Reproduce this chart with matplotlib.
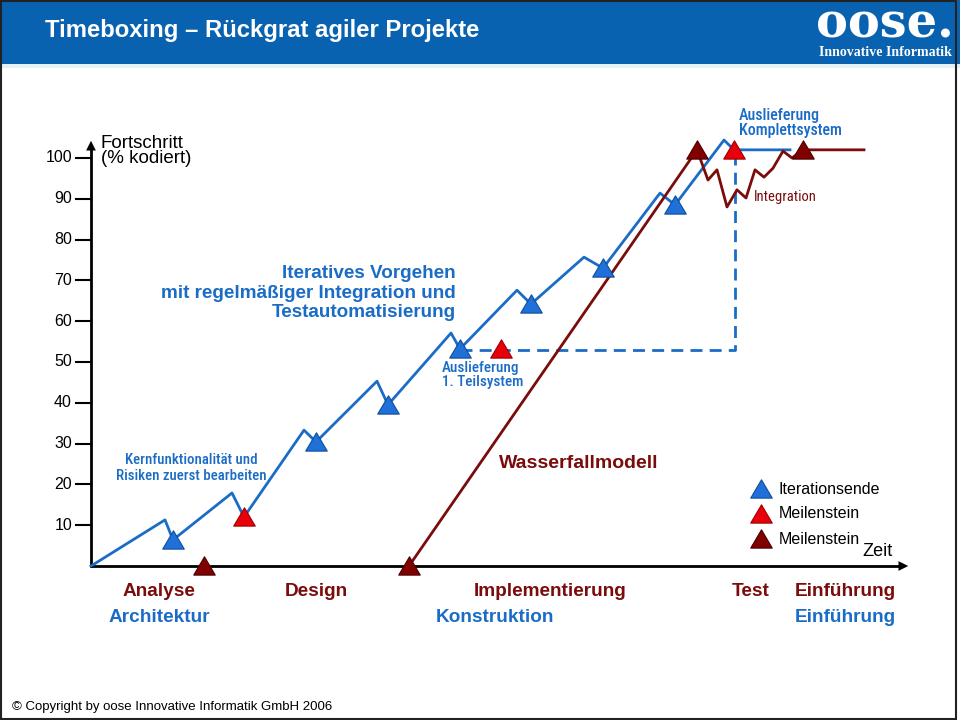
import matplotlib
matplotlib.use('Agg')
import matplotlib.pyplot as plt
from matplotlib.path import Path
from matplotlib.patches import Rectangle

# --- data (time units, progress in % coded) ---
iter_t = [0, 7.4, 8.2, 14.1, 15.3, 21.3, 22.5, 28.6, 29.7, 36.0, 36.9,
          42.6, 44.0, 49.3, 51.2, 56.9, 58.4, 63.3, 64.3, 69.9]
iter_y = [0, 11.3, 6.4, 17.9, 12.0, 33.3, 30.4, 45.3, 39.5, 57.1, 53.2,
          67.6, 64.2, 75.7, 73.0, 91.4, 88.5, 104.4, 102.0, 102.0]
iter_end_t = [8.2, 22.5, 29.7, 36.9, 44.0, 51.2, 58.4]
iter_end_y = [6.4, 30.4, 39.5, 53.2, 64.2, 73.0, 88.5]
agile_ms_t = [15.3, 41.0, 64.3]
agile_ms_y = [12.0, 53.2, 102.0]
deliv_t = [36.9, 64.4, 64.4]
deliv_y = [52.9, 52.9, 102.0]

wf_t = [31.8, 60.6, 61.7, 62.6, 63.6, 64.6, 65.5, 66.4, 67.3, 68.2, 69.2, 70.1, 71.2, 77.3]
wf_y = [0, 102, 94.6, 97.1, 88.0, 92.2, 90.2, 97.1, 95.3, 97.5, 101.7, 100.0, 102.0, 102.0]
wf_ms_t = [11.3, 31.8, 60.6, 71.2]
wf_ms_y = [0, 0, 102, 102]

y_ticks = [10, 20, 30, 40, 50, 60, 70, 80, 90, 100]
wf_phases = ["Analyse", "Design", "Implementierung", "Test", "Einführung"]
wf_phase_t = [6.8, 22.5, 45.9, 66.0, 75.4]
agile_phases = ["Architektur", "Konstruktion", "Einführung"]
agile_phase_t = [6.8, 40.4, 75.4]
legend_labels = ["Iterationsende", "Meilenstein", "Meilenstein"]

BLUE = '#1a6cc6'
BLUE_TRI = '#1f70d8'
RED = '#e8000b'
DARK = '#7a0c0c'
HEADER = '#0862b0'

plt.rcParams['font.family'] = ['Liberation Sans', 'DejaVu Sans']
COND = ['Roboto Condensed', 'Liberation Sans', 'DejaVu Sans']

# pixel -> data helpers for placing text
def X(px):
    return (px - 91) / 10.0

def Y(py):
    return (566 - py) / 4.08

tri = Path([(-1, -0.8), (1, -0.8), (0, 0.9), (-1, -0.8)],
           [Path.MOVETO, Path.LINETO, Path.LINETO, Path.CLOSEPOLY])
MS = 15.5

fig = plt.figure(figsize=(9.6, 7.2), dpi=100)
ax = fig.add_axes([0, 0, 1, 1])
ax.set_xlim(X(0), X(960))
ax.set_ylim(Y(720), Y(0))
ax.axis('off')

# header
fig.patches.append(Rectangle((0, 1 - 64 / 720), 1, 64 / 720, transform=fig.transFigure,
                             facecolor=HEADER, edgecolor='none', zorder=0))
fig.patches.append(Rectangle((0, 1 - 68 / 720), 1, 4 / 720, transform=fig.transFigure,
                             facecolor='#e4f1f7', edgecolor='none', zorder=0))
fig.patches.append(Rectangle((0.001, 0.002), 0.995, 0.997, transform=fig.transFigure,
                             facecolor='none', edgecolor='#222222', lw=1.5, zorder=5))
fig.text(45 / 960, 1 - 37 / 720, "Timeboxing – Rückgrat agiler Projekte", color='white',
         fontsize=17.2, fontweight='bold', va='baseline', ha='left')
fig.text(885 / 960, 1 - 37 / 720, "oose.", color='white', fontsize=34.5, family='DejaVu Serif',
         fontweight='bold', va='baseline', ha='center')
fig.text(885 / 960, 1 - 53 / 720, "Innovative Informatik", color='white', fontsize=10,
         family='Liberation Serif', fontweight='bold', va='center', ha='center')

# axes with arrows
ax.plot([0, 0], [0, Y(146)], color='black', lw=2, zorder=2)
ax.plot([0, X(902)], [0, 0], color='black', lw=2, zorder=2)
ax.annotate('', xy=(0, Y(138)), xytext=(0, Y(150)),
            arrowprops=dict(arrowstyle='-|>,head_width=0.35,head_length=0.7', color='black', lw=0))
ax.annotate('', xy=(X(911), 0), xytext=(X(899), 0),
            arrowprops=dict(arrowstyle='-|>,head_width=0.35,head_length=0.7', color='black', lw=0))
for v in y_ticks:
    ax.plot([X(76), 0], [v, v], color='black', lw=1.5, zorder=2)
    ax.text(X(72), v, str(v), ha='right', va='center', fontsize=11.5)

ax.text(X(101), Y(151), "Fortschritt\n(% kodiert)", ha='left', va='center', fontsize=13.5,
        linespacing=0.92)
ax.text(X(862), Y(551), "Zeit", ha='left', va='center', fontsize=13)

# lines
ax.plot(iter_t, iter_y, color=BLUE, lw=2, zorder=3)
ax.plot(deliv_t, deliv_y, color=BLUE, lw=2, dashes=(4.3, 2.6), zorder=3)
ax.plot(wf_t, wf_y, color=DARK, lw=2, zorder=3)

# milestones
ax.plot(iter_end_t, iter_end_y, ls='none', marker=tri, ms=MS, mfc=BLUE_TRI, mec='#0f4f9a',
        mew=0.8, zorder=4)
ax.plot(agile_ms_t, agile_ms_y, ls='none', marker=tri, ms=MS, mfc=RED, mec='#a00000',
        mew=0.8, zorder=4)
ax.plot(wf_ms_t, wf_ms_y, ls='none', marker=tri, ms=MS, mfc='#800000', mec='#4a0000',
        mew=0.8, zorder=4)

# annotations
ax.text(X(456), Y(293), "Iteratives Vorgehen\nmit regelmäßiger Integration und\nTestautomatisierung",
        ha='right', va='center', color=BLUE, fontsize=13.6, fontweight='bold', linespacing=1.18)
ax.text(X(191), Y(468), "Kernfunktionalität und\nRisiken zuerst bearbeiten", ha='center',
        va='center', color=BLUE, fontsize=10.7, family=COND, fontweight='medium', linespacing=1.15)
ax.text(X(442), Y(375), "Auslieferung\n1. Teilsystem", ha='left', va='center', color=BLUE,
        fontsize=10.9, family=COND, fontweight='medium', linespacing=1.08)
ax.text(X(739), Y(123), "Auslieferung\nKomplettsystem", ha='left', va='center', color=BLUE,
        fontsize=11.5, family=COND, fontweight='medium', linespacing=1.05)
ax.text(X(754), Y(197), "Integration", ha='left', va='center', color=DARK, fontsize=10.5,
        family=COND)
ax.text(X(499), Y(464), "Wasserfallmodell", ha='left', va='center', color=DARK, fontsize=14,
        fontweight='bold')

for lab, t in zip(wf_phases, wf_phase_t):
    ax.text(t, Y(591), lab, ha='center', va='center', color=DARK, fontsize=13.7, fontweight='bold')
for lab, t in zip(agile_phases, agile_phase_t):
    ax.text(t, Y(617), lab, ha='center', va='center', color=BLUE, fontsize=13.7, fontweight='bold')

# legend
leg_style = [(BLUE_TRI, '#0f4f9a'), (RED, '#a00000'), ('#800000', '#4a0000')]
for i, (lab, (fc, ec)) in enumerate(zip(legend_labels, leg_style)):
    py = 489 + 25 * i
    ax.plot([X(761)], [Y(py)], marker=tri, ms=MS, mfc=fc, mec=ec, mew=0.8, ls='none', zorder=4)
    ax.text(X(779), Y(py), lab, ha='left', va='center', fontsize=11.5)

fig.text(12 / 960, 1 - 707 / 720, "© Copyright by oose Innovative Informatik GmbH 2006",
         ha='left', va='center', fontsize=9.5)

fig.savefig('out.png', dpi=100)
